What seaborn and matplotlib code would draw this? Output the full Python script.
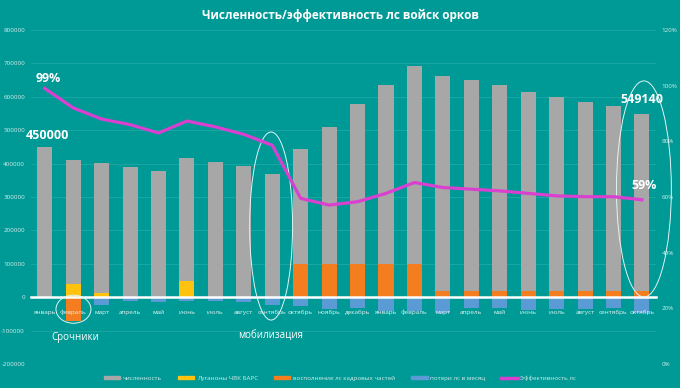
import numpy as np
import pandas as pd
import matplotlib
matplotlib.use("Agg")
import matplotlib.pyplot as plt
from matplotlib.patches import Patch, Ellipse
from matplotlib.lines import Line2D
from matplotlib.ticker import FuncFormatter
import seaborn as sns

# Data
months = ["январь", "февраль", "март", "апрель", "май", "июнь", "июль", "август",
          "сентябрь", "октябрь", "ноябрь", "декабрь", "январь", "февраль", "март",
          "апрель", "май", "июнь", "июль", "август", "сентябрь", "октябрь"]
strength = [450000, 412000, 403000, 391000, 377000, 417000, 406000, 393000, 370000,
            445000, 510000, 578000, 635000, 693000, 663000, 650000, 634000, 613000,
            598000, 584000, 573000, 549140]
lugandons = [0, 39000, 13000, 0, 0, 49000, 0, 0, 0, 0, 0,
             0, 0, 0, 0, 0, 0, 0, 0, 0, 0, 0]
replenish = [0, -70000, 0, 0, 0, 0, 0, 0, 0, 100000, 100000,
             100000, 100000, 100000, 20000, 20000, 20000, 20000, 20000, 20000, 20000, 20000]
losses = [-3000, -15000, -22000, -12000, -15000, -10000, -10000, -15000, -22000, -25000, -35000,
          -32000, -42000, -42000, -47000, -32000, -33000, -39000, -35000, -35000, -31000, -47000]
efficiency = [0.99, 0.92, 0.88, 0.86, 0.83, 0.873, 0.852, 0.825, 0.786, 0.595, 0.571,
              0.583, 0.613, 0.652, 0.634, 0.628, 0.622, 0.613, 0.604, 0.601, 0.601, 0.59]

labels = ["численность", "Луганоны ЧВК БАРС", "восполнение лс кадровых частей",
          "потери лс в месяц", "Эффективность лс"]

bg = "#009a96"
c_gray = "#a7a7a7"
c_yellow = "#ffc20e"
c_orange = "#f47d20"
c_blue = "#5b9bd5"
c_line = "#d940cf"
c_text = "#d2ecea"

plt.rcParams["font.family"] = ["Open Sans", "DejaVu Sans"]

df = pd.DataFrame({"idx": np.arange(len(months)), "strength": strength,
                   "lugandons": lugandons, "replenish": replenish,
                   "losses": losses, "efficiency": efficiency})

fig = plt.figure(figsize=(6.8, 3.88), dpi=100, facecolor=bg)
ax = fig.add_axes([0.0449, 0.0619, 0.92, 0.8608])
ax.set_facecolor(bg)

# horizontal grid
for v in range(-200000, 800001, 100000):
    ax.axhline(v, color="#1fa8a4", lw=0.6, zorder=0.5)

# overlapping bars, tick labels stay on top (axis zorder 2.5)
bw = 0.53
sns.barplot(data=df, x="idx", y="strength", color=c_gray, saturation=1, width=bw, ax=ax, zorder=1)
sns.barplot(data=df, x="idx", y="lugandons", color=c_yellow, saturation=1, width=bw, ax=ax, zorder=1.2)
sns.barplot(data=df, x="idx", y="losses", color=c_blue, saturation=1, width=bw, ax=ax, zorder=1.3)
sns.barplot(data=df, x="idx", y="replenish", color=c_orange, saturation=1, width=bw, ax=ax, zorder=1.4)

ax.set_ylim(-200000, 800000)
ax.set_yticks(range(-200000, 800001, 100000))
ax.yaxis.set_major_formatter(FuncFormatter(lambda v, p: f"{int(v)}"))
ax.tick_params(axis="y", length=0, pad=4, labelsize=4.5, labelcolor=c_text)
ax.set_xticks(range(len(months)))
ax.set_xticklabels(months)
ax.tick_params(axis="x", length=0, pad=9, labelsize=4.6, labelcolor="#e3f3f2")
for t in ax.get_xticklabels():
    t.set_fontweight("semibold")
ax.set_xlabel("")
ax.set_ylabel("")
for s in ["top", "right", "left"]:
    ax.spines[s].set_visible(False)
ax.spines["bottom"].set_position(("data", 0))
ax.spines["bottom"].set_color("white")
ax.spines["bottom"].set_linewidth(1.8)
ax.spines["bottom"].set_zorder(5)

# efficiency line on the right axis
ax2 = ax.twinx()
sns.lineplot(data=df, x="idx", y="efficiency", color=c_line, lw=2.3, ax=ax2)
ax2.set_ylim(0, 1.2)
ax2.set_yticks(np.arange(0, 1.21, 0.2))
ax2.yaxis.set_major_formatter(FuncFormatter(lambda v, p: f"{v*100:.0f}%"))
ax2.tick_params(axis="y", length=0, pad=4, labelsize=4.5, labelcolor=c_text)
ax2.set_ylabel("")
for s in ax2.spines.values():
    s.set_visible(False)
ax.set_xlim(-0.5, len(months) - 0.5)

# annotations
ax.text(0.12, 655000, "99%", color="white", fontsize=9, fontweight="bold", ha="center", va="center")
ax.text(0.08, 485000, "450000", color="white", fontsize=9, fontweight="bold", ha="center", va="center")
ax.text(21.0, 592000, "549140", color="white", fontsize=9, fontweight="bold", ha="center", va="center")
ax.text(21.07, 335000, "59%", color="white", fontsize=9, fontweight="bold", ha="center", va="center", zorder=6)
ax.text(1.07, -122000, "Срочники", color="white", fontsize=7, ha="center", va="center")
ax.text(7.94, -116000, "мобилизация", color="white", fontsize=7, ha="center", va="center")

ec = "#dff5f3"
ax.add_patch(Ellipse((1.01, -36000), 1.23, 84000, fill=False, ec=ec, lw=0.7, zorder=6))
ax.add_patch(Ellipse((7.96, 213000), 1.51, 563000, fill=False, ec=ec, lw=0.7, zorder=6))
ax.add_patch(Ellipse((21.07, 324000), 1.93, 647000, fill=False, ec=ec, lw=0.7, zorder=6, clip_on=False))

fig.text(0.5, 1 - 15 / 388, "Численность/эффективность лс войск орков", color="white",
         fontsize=8.5, fontweight="bold", ha="center", va="center")

handles = [Patch(color=c_gray), Patch(color=c_yellow), Patch(color=c_orange),
           Patch(color=c_blue), Line2D([], [], color=c_line, lw=2.5)]
fig.legend(handles, labels, loc="center", bbox_to_anchor=(0.5, 1 - 378 / 388), ncol=5,
           frameon=False, fontsize=4.5, labelcolor=c_text, handlelength=2.6,
           handleheight=0.5, columnspacing=2.6, handletextpad=0.4)

fig.savefig("out.png", dpi=100, facecolor=bg)
